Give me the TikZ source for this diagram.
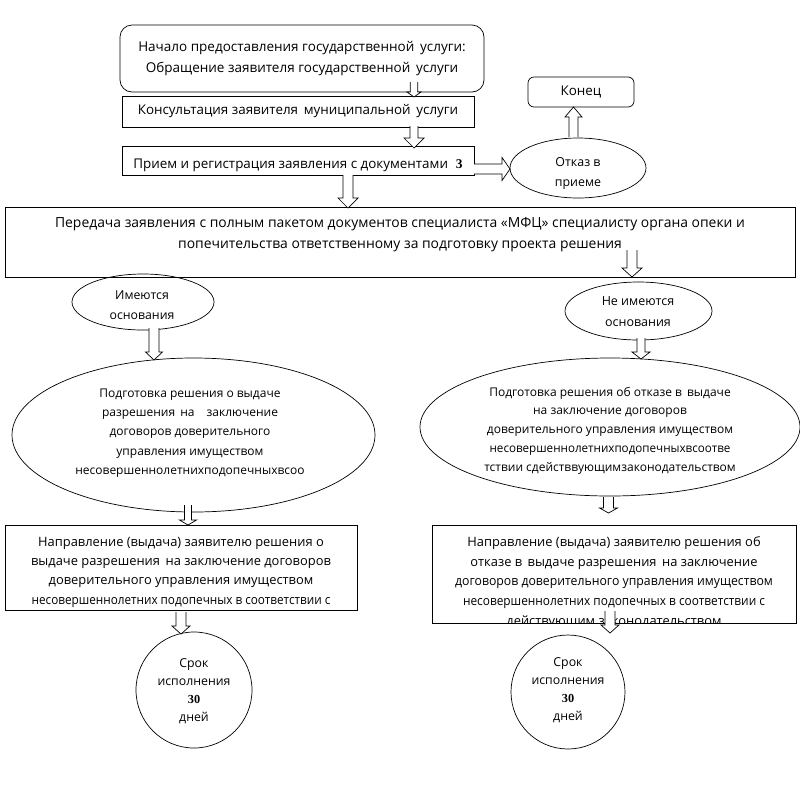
\documentclass[tikz,border=0pt]{standalone}
\usepackage{fontspec}
\setmainfont{Open Sans}
\newfontfamily\numfont{Liberation Serif}
\usetikzlibrary{shapes.geometric,calc}
% vertical hollow arrow: x, y start, y tip, shaft half width, head half width, head length
\newcommand{\vbarrow}[6]{%
  \draw[barrow] (#1-#4,#2) -- (#1-#4,#3-#6) -- (#1-#5,#3-#6) -- (#1,#3)
    -- (#1+#5,#3-#6) -- (#1+#4,#3-#6) -- (#1+#4,#2);}
\newcommand{\hsq}[2]{\scalebox{#1}[1]{#2}}
\begin{document}
\begin{tikzpicture}[x=1pt,y=-1pt,
  outl/.style={draw, line width=0.7pt, inner sep=0pt},
  rbox/.style={outl, rectangle},
  rrbox/.style={outl, rectangle, rounded corners=12pt},
  oval/.style={outl, ellipse},
  circ/.style={outl, circle},
  txt/.style={align=center, inner sep=0pt, font=\fontsize{13.4}{20}\selectfont},
  barrow/.style={draw, line width=0.7pt, fill=white, line join=miter}]
\useasboundingbox (0,0) rectangle (800,796);

% shapes
\node[rrbox, minimum width=364pt, minimum height=67pt] (start) at (302,58.5) {};
\node[rbox, minimum width=352pt, minimum height=31pt] (cons) at (298,111.5) {};
\node[rbox, minimum width=352pt, minimum height=29pt] (reg) at (298,160.5) {};
\node[oval, minimum width=136pt, minimum height=60pt] (otkaz) at (578,168) {};
\node[rrbox, rounded corners=6pt, minimum width=106pt, minimum height=30pt] (konec) at (581,92) {};
\node[rbox, minimum width=790pt, minimum height=70pt] (pered) at (400,242) {};
\node[oval, minimum width=142pt, minimum height=56pt] (est) at (143,302) {};
\node[oval, minimum width=147pt, minimum height=58pt] (net) at (638.5,311) {};
\node[oval, minimum width=363pt, minimum height=154pt] (podgL) at (193.5,435) {};
\node[oval, minimum width=380pt, minimum height=138pt] (podgR) at (610,427) {};
\node[rbox, minimum width=352pt, minimum height=85pt] (napL) at (181,567.5) {};
\node[rbox, minimum width=364pt, minimum height=98pt] (napR) at (614,574) {};
\node[circ, minimum size=116pt] (srokL) at (194,690) {};
\node[circ, minimum size=114pt] (srokR) at (568,692) {};

% texts
\node[txt, font=\fontsize{13.5}{21}\selectfont] (start-t) at (start.center) {Начало предоставления государственной\, услуги:\\Обращение заявителя государственной\, услуги};
\node[txt] (cons-t) at (cons.center) {Консультация заявителя\, муниципальной\, услуги};
\node[txt, anchor=base] (reg-t) at ($(reg.center)+(0,8)$) {Прием и регистрация заявления с документами\,\, {\numfont\bfseries 3}};
\node[txt, font=\fontsize{12.4}{20}\selectfont] (otkaz-t) at ($(otkaz.center)+(0,5)$) {Отказ в\\приеме};
\node[txt] (konec-t) at (konec.center) {Конец};
\node[txt, font=\fontsize{13.9}{21}\selectfont] (pered-t) at (400,234.5) {Передача заявления с полным пакетом документов специалиста «МФЦ» специалисту органа опеки и\\попечительства ответственному за подготовку проекта решения};
\node[txt, font=\fontsize{12.3}{20}\selectfont] (est-t) at (142,305) {Имеются\\основания};
\node[txt, font=\fontsize{12.5}{21}\selectfont] (net-t) at (638,312) {Не имеются\\основания};
\node[txt, font=\fontsize{12}{19.2}\selectfont] (podgL-t) at (190,433) {Подготовка решения о выдаче\\разрешения\, на\quad заключение\\договоров доверительного\\управления имуществом\\несовершеннолетнихподопечныхвсоо};
\node[txt, font=\fontsize{12}{18.8}\selectfont] (podgR-t) at (610,430.5) {Подготовка решения об отказе в\, выдаче\\на заключение договоров\\доверительного управления имуществом\\\hsq{0.97}{несовершеннолетнихподопечныхвсоотве}\\тствии сдействвующимзаконодательством};
\node[txt, font=\fontsize{12.9}{19.3}\selectfont] (napL-t) at (181,572) {Направление (выдача) заявителю решения о\\выдаче разрешения\, на заключение договоров\\доверительного управления имуществом\\\hsq{0.91}{несовершеннолетних подопечных в соответствии с}};
\begin{scope}
\clip (napR.south west) rectangle (napR.north east);
\node[txt, font=\fontsize{12.9}{19.8}\selectfont] (napR-t) at (614,582.5) {Направление (выдача) заявителю решения об\\отказе в\, выдаче разрешения\, на заключение\\\hsq{0.95}{договоров доверительного управления имуществом}\\\hsq{0.92}{несовершеннолетних подопечных в соответствии с}\\действующим законодательством};
\end{scope}
\node[txt, font=\fontsize{12.3}{18}\selectfont] (srokL-t) at (194,691.5) {Срок\\исполнения\\{\numfont\bfseries 30}\\дней};
\node[txt, font=\fontsize{12.3}{18}\selectfont] (srokR-t) at (568,690.5) {Срок\\исполнения\\{\numfont\bfseries 30}\\дней};

% hollow arrows
\vbarrow{414}{82}{97}{3.7}{7}{5}
\vbarrow{414}{126}{148}{4}{10}{10}
\vbarrow{348}{175}{208}{5}{10}{10}
\vbarrow{632}{250}{277}{5}{10}{9}
\vbarrow{154}{328}{360}{5}{8.5}{8}
\vbarrow{641}{338}{359}{4}{9}{7}
\vbarrow{188}{505}{525}{3.5}{8.5}{5}
\vbarrow{608.5}{497}{513}{5}{9}{5}
\vbarrow{181}{612}{634}{5}{9}{8}
\vbarrow{610}{611}{633}{5}{9}{8}
% right arrow reg -> otkaz
\draw[barrow] (474,164) -- (502,164) -- (502,157.5) -- (510,169) -- (502,180.5) -- (502,174) -- (474,174);
% up arrow otkaz -> konec
\draw[barrow] (569,137) -- (569,117) -- (565,117) -- (573.5,107) -- (582,117) -- (578,117) -- (578,137);
\end{tikzpicture}
\end{document}
